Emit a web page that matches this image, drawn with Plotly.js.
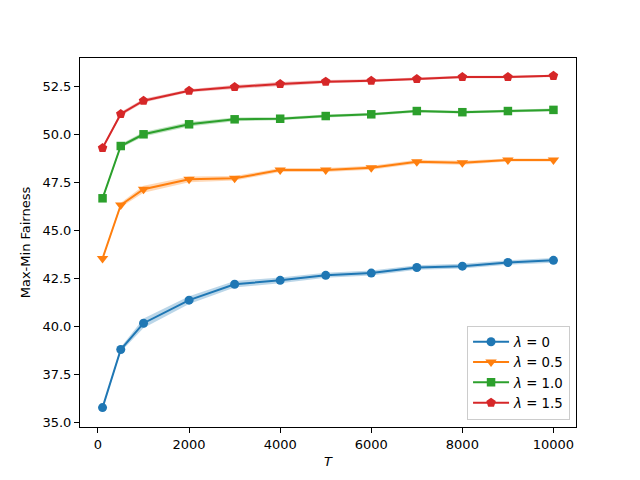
<!DOCTYPE html>
<html>
<head>
<meta charset="utf-8">
<script src="https://cdn.plot.ly/plotly-3.0.1.min.js"></script>
<style>html,body{margin:0;padding:0;background:#fff;}#chart{width:640px;height:480px;}</style>
</head>
<body>
<div id="chart"></div>
<script>
var T = [100, 500, 1000, 2000, 3000, 4000, 5000, 6000, 7000, 8000, 9000, 10000];
var labels = ['<i>λ</i> = 0', '<i>λ</i> = 0.5', '<i>λ</i> = 1.0', '<i>λ</i> = 1.5'];
var lam0 = [35.78, 38.80, 40.17, 41.37, 42.20, 42.40, 42.66, 42.78, 43.07, 43.14, 43.33, 43.44];
var lam05 = [43.54, 46.32, 47.14, 47.66, 47.71, 48.14, 48.14, 48.26, 48.57, 48.52, 48.66, 48.66];
var lam10 = [46.67, 49.39, 50.00, 50.52, 50.78, 50.81, 50.95, 51.04, 51.21, 51.15, 51.21, 51.27];
var lam15 = [49.29, 51.06, 51.75, 52.27, 52.46, 52.62, 52.74, 52.79, 52.88, 52.98, 52.98, 53.04];
var err0 = [0.05, 0.12, 0.25, 0.2, 0.17, 0.15, 0.13, 0.13, 0.12, 0.12, 0.12, 0.12];
var err05 = [0.05, 0.12, 0.18, 0.15, 0.12, 0.1, 0.1, 0.1, 0.1, 0.1, 0.08, 0.08];
var err10 = [0.05, 0.1, 0.12, 0.12, 0.1, 0.08, 0.08, 0.07, 0.07, 0.07, 0.07, 0.07];
var err15 = [0.05, 0.1, 0.1, 0.08, 0.1, 0.1, 0.08, 0.07, 0.07, 0.06, 0.06, 0.06];

var series = [lam0, lam05, lam10, lam15];
var errs = [err0, err05, err10, err15];
var colors = ['#1f77b4', '#ff7f0e', '#2ca02c', '#d62728'];
var fills = ['rgba(31,119,180,0.3)', 'rgba(255,127,14,0.3)', 'rgba(44,160,44,0.3)', 'rgba(214,39,40,0.3)'];
var symbols = ['circle', 'triangle-down', 'square', 'pentagon'];
var msizes = [9, 10, 8.5, 10];

var traces = [];
series.forEach(function (s, i) {
  var up = s.map(function (v, j) { return v + errs[i][j]; });
  var lo = s.map(function (v, j) { return v - errs[i][j]; });
  traces.push({x: T.concat(T.slice().reverse()), y: up.concat(lo.slice().reverse()),
    type: 'scatter', mode: 'lines', fill: 'toself', fillcolor: fills[i],
    line: {width: 0, color: fills[i]}, showlegend: false, hoverinfo: 'skip'});
});
series.forEach(function (s, i) {
  traces.push({x: T, y: s, type: 'scatter', mode: 'lines+markers', name: labels[i],
    legendgroup: 'g' + i,
    line: {color: colors[i], width: 2},
    marker: {symbol: symbols[i], size: msizes[i], color: colors[i]}});
});

var layout = {
  width: 640, height: 480,
  margin: {l: 80, r: 64, t: 58, b: 53},
  paper_bgcolor: '#fff', plot_bgcolor: '#fff',
  font: {family: 'DejaVu Sans', size: 13, color: '#000'},
  showlegend: true,
  legend: {x: 0.988, y: 0.02, xanchor: 'right', yanchor: 'bottom',
    bgcolor: 'rgba(255,255,255,0.8)', bordercolor: '#cccccc', borderwidth: 1,
    font: {family: 'DejaVu Sans', size: 13.3}, tracegroupgap: 0, itemwidth: 36},
  xaxis: {range: [-395, 10495], tickvals: [0, 2000, 4000, 6000, 8000, 10000],
    ticktext: ['0', '2000', '4000', '6000', '8000', '10000'],
    ticks: 'outside', ticklen: 5, tickwidth: 1, tickcolor: '#000',
    showline: true, linecolor: '#000', linewidth: 1, mirror: true,
    showgrid: false, zeroline: false,
    title: {text: '<i>T</i>', font: {size: 13}, standoff: 6}},
  yaxis: {range: [34.77, 53.97], tickvals: [35, 37.5, 40, 42.5, 45, 47.5, 50, 52.5],
    ticktext: ['35.0', '37.5', '40.0', '42.5', '45.0', '47.5', '50.0', '52.5'],
    ticks: 'outside', ticklen: 5, tickwidth: 1, tickcolor: '#000',
    showline: true, linecolor: '#000', linewidth: 1, mirror: true,
    showgrid: false, zeroline: false,
    title: {text: 'Max-Min Fairness', font: {size: 13}, standoff: 8}}
};

Plotly.newPlot('chart', traces, layout, {displayModeBar: false, staticPlot: true});
</script>
</body>
</html>
